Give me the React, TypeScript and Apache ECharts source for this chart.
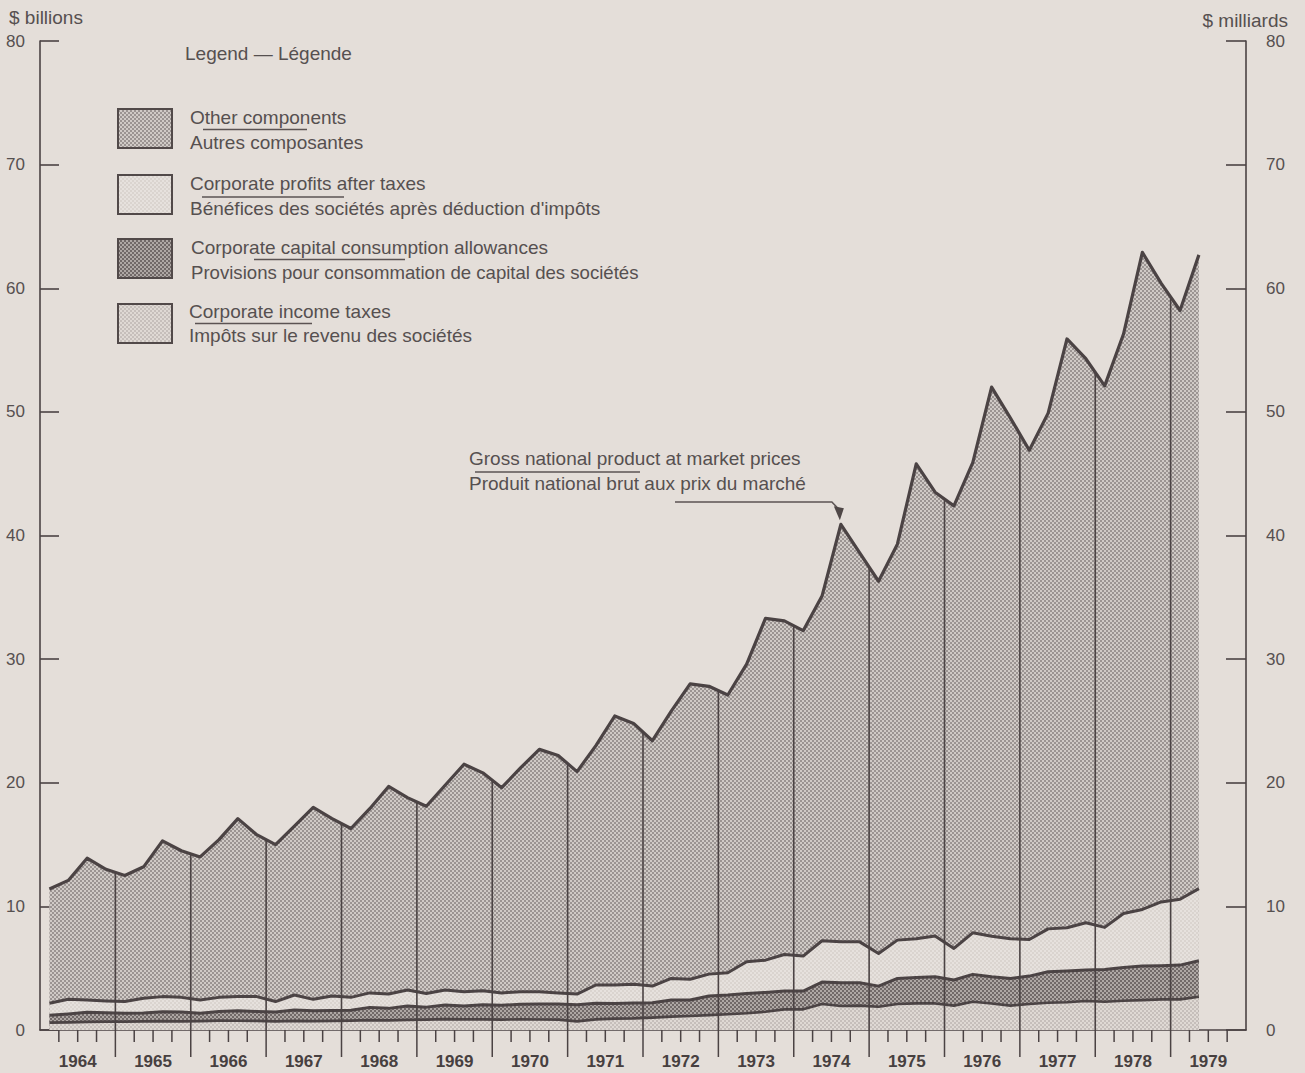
import React, { useEffect, useRef } from "react";
import * as echarts from "echarts";

// ---- data (quarterly, $ billions) ----
const years = ["1964","1965","1966","1967","1968","1969","1970","1971","1972","1973","1974","1975","1976","1977","1978","1979"];
const quarterNames = ["Q1", "Q2", "Q3", "Q4"];
const quarters = years.flatMap((y) => quarterNames.map((q) => `${y} ${q}`));

// Gross national product at market prices (top of "Other components")
const gnp = [
  11.4, 12.1, 13.9, 13.0,
  12.5, 13.2, 15.3, 14.5,
  14.0, 15.4, 17.1, 15.8,
  15.0, 16.5, 18.0, 17.1,
  16.3, 17.9, 19.7, 18.8,
  18.1, 19.8, 21.5, 20.8,
  19.6, 21.2, 22.7, 22.2,
  20.9, 23.0, 25.4, 24.8,
  23.4, 25.8, 28.0, 27.8,
  27.1, 29.6, 33.3, 33.1,
  32.3, 35.1, 40.9, 38.6,
  36.3, 39.3, 45.8, 43.5,
  42.4, 45.9, 52.0, 49.5,
  46.9, 49.9, 55.9, 54.3,
  52.1, 56.3, 62.9, 60.4,
  58.2, 62.7,
];

// Top of "Corporate profits after taxes" (cumulative level)
const profitsTop = [
  2.16, 2.48, 2.43, 2.35,
  2.30, 2.56, 2.70, 2.64,
  2.43, 2.64, 2.70, 2.70,
  2.30, 2.83, 2.48, 2.75,
  2.64, 3.00, 2.91, 3.23,
  2.96, 3.23, 3.10, 3.18,
  3.00, 3.10, 3.10, 3.00,
  2.91, 3.64, 3.64, 3.70,
  3.55, 4.17, 4.10, 4.52,
  4.63, 5.52, 5.65, 6.11,
  5.98, 7.22, 7.13, 7.13,
  6.19, 7.27, 7.38, 7.60,
  6.60, 7.86, 7.59, 7.38,
  7.32, 8.18, 8.27, 8.67,
  8.30, 9.42, 9.75, 10.36,
  10.58, 11.44,
];

// Top of "Corporate capital consumption allowances" (cumulative level)
const ccaTop = [
  1.20, 1.30, 1.43, 1.40,
  1.35, 1.38, 1.48, 1.45,
  1.35, 1.50, 1.56, 1.50,
  1.45, 1.62, 1.55, 1.58,
  1.60, 1.83, 1.75, 1.95,
  1.85, 2.02, 1.95, 2.05,
  2.00, 2.08, 2.10, 2.10,
  2.05, 2.16, 2.15, 2.18,
  2.20, 2.42, 2.42, 2.75,
  2.83, 2.96, 3.04, 3.15,
  3.15, 3.88, 3.83, 3.83,
  3.55, 4.17, 4.25, 4.30,
  4.04, 4.50, 4.30, 4.17,
  4.36, 4.71, 4.77, 4.85,
  4.90, 5.06, 5.17, 5.20,
  5.25, 5.60,
];

// "Corporate income taxes"
const taxesTop = [
  0.60, 0.62, 0.66, 0.68,
  0.68, 0.70, 0.72, 0.70,
  0.72, 0.76, 0.75, 0.74,
  0.70, 0.74, 0.72, 0.74,
  0.76, 0.80, 0.78, 0.82,
  0.84, 0.88, 0.86, 0.86,
  0.84, 0.86, 0.85, 0.84,
  0.70, 0.86, 0.92, 0.94,
  1.00, 1.08, 1.13, 1.20,
  1.27, 1.35, 1.48, 1.67,
  1.67, 2.10, 1.94, 1.97,
  1.88, 2.10, 2.15, 2.15,
  1.97, 2.29, 2.15, 1.97,
  2.10, 2.20, 2.24, 2.34,
  2.29, 2.37, 2.42, 2.48,
  2.48, 2.69,
];

const Y_MIN = 0;
const Y_MAX = 80;
const Y_STEP = 10;
const ARROW_INDEX = 42; // 1974 Q3 peak pointed at by the annotation

// ---- styles ----
const BG = "#e4ded9";
const INK = "#4b4344";
const TEXT = "#565050";
const FONT = "'Liberation Sans', Arial, Helvetica, sans-serif";

const tile = (dark: string, light: string) =>
  "data:image/svg+xml;utf8," +
  encodeURIComponent(
    `<svg xmlns="http://www.w3.org/2000/svg" width="4" height="4"><rect width="4" height="4" fill="${light}"/><rect width="2" height="2" fill="${dark}"/><rect x="2" y="2" width="2" height="2" fill="${dark}"/></svg>`
  );
const pattern = (dark: string, light: string): any => ({
  type: "pattern",
  image: tile(dark, light),
  repeat: "repeat",
  imageWidth: 4,
  imageHeight: 4,
});

const FILL_OTHER = pattern("#9b9492", "#d0cac6");
const FILL_PROFITS = pattern("#dad4cf", "#e6e1dd");
const FILL_CCA = pattern("#716968", "#aea7a4");
const FILL_TAXES = pattern("#c6bfbb", "#dfd9d4");

export default function App() {
  const ref = useRef<HTMLDivElement>(null);

  useEffect(() => {
    if (!ref.current) return;
    const chart = echarts.init(ref.current, undefined, { renderer: "svg" });

    const areaSeries = (name: string, data: number[], fill: any, width: number) => ({
      name,
      type: "line",
      xAxisIndex: 0,
      yAxisIndex: 0,
      data,
      symbol: "none",
      smooth: false,
      lineStyle: { color: INK, width, join: "round" },
      areaStyle: { color: fill, opacity: 1 },
      emphasis: { disabled: true },
      z: 2,
    });

    const boundaries = quarters.slice(1).map((_, i) => [i + 1, 0]);

    const option: any = {
      animation: false,
      backgroundColor: BG,
      textStyle: { fontFamily: FONT },
      grid: { left: 40, right: 59, top: 41, bottom: 43, containLabel: false },
      xAxis: [
        {
          type: "category",
          data: quarters,
          boundaryGap: true,
          position: "bottom",
          axisLine: { show: true, lineStyle: { color: INK, width: 1.6 } },
          axisTick: { show: false },
          axisLabel: { show: false },
          splitLine: { show: false },
        },
        {
          type: "category",
          data: years,
          boundaryGap: true,
          position: "bottom",
          axisLine: { show: false },
          axisTick: { show: false },
          axisLabel: {
            show: true,
            interval: 0,
            margin: 23,
            fontSize: 17,
            fontWeight: "bold",
            color: "#474040",
            fontFamily: FONT,
          },
          splitLine: { show: false },
        },
      ],
      yAxis: [
        {
          type: "value",
          position: "left",
          min: Y_MIN,
          max: Y_MAX,
          interval: Y_STEP,
          axisLine: { show: true, lineStyle: { color: INK, width: 1.6 } },
          axisTick: { show: true, inside: true, length: 19, lineStyle: { color: INK, width: 1.6 } },
          axisLabel: { margin: 15, fontSize: 17, color: TEXT, fontFamily: FONT },
          splitLine: { show: false },
        },
        {
          type: "value",
          position: "right",
          min: Y_MIN,
          max: Y_MAX,
          interval: Y_STEP,
          axisLine: { show: true, lineStyle: { color: INK, width: 1.6 } },
          axisTick: { show: true, inside: true, length: 20, lineStyle: { color: INK, width: 1.6 } },
          axisLabel: { margin: 20, fontSize: 17, color: TEXT, fontFamily: FONT },
          splitLine: { show: false },
        },
      ],
      series: [
        areaSeries("Other components", gnp, FILL_OTHER, 3.2),
        areaSeries("Corporate profits after taxes", profitsTop, FILL_PROFITS, 3),
        areaSeries("Corporate capital consumption allowances", ccaTop, FILL_CCA, 3),
        areaSeries("Corporate income taxes", taxesTop, FILL_TAXES, 2.6),
        {
          name: "ticks",
          type: "custom",
          xAxisIndex: 0,
          yAxisIndex: 0,
          clip: false,
          silent: true,
          z: 5,
          encode: { x: 0, y: 1 },
          data: boundaries,
          renderItem: (params: any, api: any) => {
            const b = api.value(0) as number;
            const bw = api.size([1, 0])[0];
            const p = api.coord([b, 0]);
            const x = p[0] - bw / 2;
            const y0 = p[1];
            const isYear = b % 4 === 0;
            const children: any[] = [
              {
                type: "line",
                shape: { x1: x, y1: y0, x2: x, y2: y0 + (isYear ? 27 : 12) },
                style: { stroke: INK, lineWidth: 1.5 },
              },
            ];
            if (isYear && b < gnp.length) {
              const v = (gnp[b - 1] + gnp[b]) / 2;
              const yt = api.coord([b, v])[1];
              children.push({
                type: "line",
                shape: { x1: x, y1: y0, x2: x, y2: yt },
                style: { stroke: INK, lineWidth: 1.6 },
              });
            }
            return { type: "group", children };
          },
        },
      ],
    };

    chart.setOption(option);

    const tip = chart.convertToPixel({ xAxisIndex: 0, yAxisIndex: 0 }, [ARROW_INDEX, gnp[ARROW_INDEX]]) as number[];
    const tx = tip[0] - 1;
    const ty = tip[1] - 4;

    const txt = (x: number, y: number, s: string, extra: any = {}) => ({
      type: "text",
      x,
      y,
      silent: true,
      style: {
        text: s,
        fill: TEXT,
        font: `19px ${FONT}`,
        textVerticalAlign: "middle",
        verticalAlign: "middle",
        ...extra,
      },
    });
    const hline = (x1: number, x2: number, y: number) => ({
      type: "line",
      silent: true,
      shape: { x1, y1: y, x2, y2: y },
      style: { stroke: "#5b5353", lineWidth: 1.4 },
    });
    const box = (y: number, fill: any) => ({
      type: "rect",
      silent: true,
      shape: { x: 118, y, width: 54, height: 39 },
      style: { fill, stroke: "#514949", lineWidth: 2 },
    });

    const graphics: any[] = [
      txt(9, 17, "$ billions"),
      txt(1288, 20, "$ milliards", { align: "right", textAlign: "right" }),
      txt(185, 53, "Legend — Légende"),

      box(109, FILL_OTHER),
      txt(190, 117, "Other components"),
      hline(203, 307, 129.5),
      txt(190, 142, "Autres composantes"),

      box(175, FILL_PROFITS),
      txt(190, 183, "Corporate profits after taxes"),
      hline(202, 344, 197),
      txt(190, 208, "Bénéfices des sociétés après déduction d'impôts"),

      box(239, FILL_CCA),
      txt(191, 247, "Corporate capital consumption allowances"),
      hline(254, 405, 259.5),
      txt(191, 272, "Provisions pour consommation de capital des sociétés", { font: `18.6px ${FONT}` }),

      box(304, FILL_TAXES),
      txt(189, 311, "Corporate income taxes"),
      hline(195, 312, 323.5),
      txt(189, 335, "Impôts sur le revenu des sociétés"),

      txt(469, 458, "Gross national product at market prices"),
      hline(475, 640, 472),
      txt(469, 483, "Produit national brut aux prix du marché"),
      {
        type: "polyline",
        silent: true,
        shape: { points: [[675, 502], [tx - 8, 502], [tx, ty - 10]] },
        style: { stroke: "#5b5353", lineWidth: 1.5, fill: "none" },
      },
      {
        type: "polygon",
        silent: true,
        shape: { points: [[tx - 6, ty - 14], [tx + 4, ty - 12], [tx, ty]] },
        style: { fill: "#4f4747" },
      },
    ];

    chart.setOption({ graphic: graphics });

    return () => chart.dispose();
  }, []);

  return (
    <div
      ref={ref}
      style={{ position: "absolute", left: 0, top: 0, width: 1305, height: 1073, background: BG }}
    />
  );
}
